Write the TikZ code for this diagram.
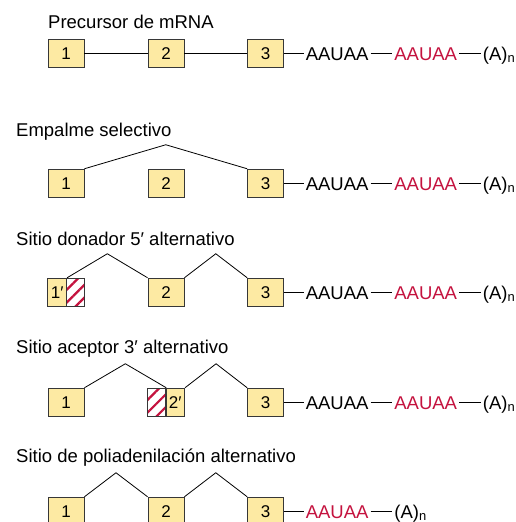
\documentclass[tikz,border=0pt]{standalone}
\usepackage{fontspec}
\setmainfont{Liberation Sans}
\usetikzlibrary{positioning,calc,patterns.meta}

\definecolor{exonfill}{RGB}{253,234,163}
\definecolor{exonline}{RGB}{55,55,55}
\definecolor{signalred}{RGB}{196,18,62}

\begin{document}
\begin{tikzpicture}[
    x=1pt, y=-1pt,
    rowtitle/.style={anchor=base west, inner sep=0pt, font=\fontsize{18.5}{21}\selectfont},
    exon/.style={draw=exonline, line width=0.9pt, fill=exonfill, inner sep=0pt,
                 minimum width=36pt, minimum height=28.6pt, font=\fontsize{17}{19}\selectfont},
    halfexon/.style={exon, minimum width=18pt},
    hatchexon/.style={draw=exonline, line width=0.9pt, inner sep=0pt,
                 minimum width=18pt, minimum height=28.6pt,
                 pattern={Lines[angle=45, distance=9pt, line width=2.2pt]}, pattern color=signalred},
    seq/.style={inner sep=2pt, text height=13.2pt, text depth=0pt, font=\fontsize{18.5}{21}\selectfont},
    redseq/.style={seq, text=signalred},
    link/.style={line width=0.8pt, black},
]

\def\xa{66}  \def\xb{166}  \def\xc{265.6}
\def\rise{24}

\useasboundingbox (0,0) rectangle (516,522);

% Precursor
\node[rowtitle] (tpre) at (48,28) {Precursor de mRNA};
\node[exon] (pre1) at (\xa,53.5) {1};
\node[exon] (pre2) at (\xb,53.5) {2};
\node[exon] (pre3) at (\xc,53.5) {3};
\draw[link] (pre1.east) -- (pre2.west);
\draw[link] (pre2.east) -- (pre3.west);

% Empalme selectivo: exon 2 skipped
\node[rowtitle] (tsel) at (16,136) {Empalme selectivo};
\node[exon] (sel1) at (\xa,183.5) {1};
\node[exon] (sel2) at (\xb,183.5) {2};
\node[exon] (sel3) at (\xc,183.5) {3};
\draw[link] (sel1.north east) -- ($(sel1.north east)!.5!(sel3.north west)+(0,-\rise)$) -- (sel3.north west);

% Donador 5' alternativo
\node[rowtitle] (tdon) at (16,245) {Sitio donador 5′ alternativo};
\node[halfexon, minimum width=19pt] (don1a) at (57.2,292.5) {1′};
\node[hatchexon, minimum width=17.5pt] (don1b) at (75.4,292.5) {};
\node[exon] (don2) at (\xb,292.5) {2};
\node[exon] (don3) at (\xc,292.5) {3};
\draw[link] (don1a.north east) -- ($(don1a.north east)!.5!(don2.north west)+(0,-\rise)$) -- (don2.north west);
\draw[link] (don2.north east) -- ($(don2.north east)!.5!(don3.north west)+(0,-\rise)$) -- (don3.north west);

% Aceptor 3' alternativo
\node[rowtitle] (tacc) at (16,353) {Sitio aceptor 3′ alternativo};
\node[exon] (acc1) at (\xa,402.5) {1};
\node[hatchexon] (acc2a) at (156.8,402.5) {};
\node[halfexon, minimum width=18.5pt] (acc2b) at (175.3,402.5) {2′};
\node[exon] (acc3) at (\xc,402.5) {3};
\draw[link] (acc1.north east) -- ($(acc1.north east)!.5!(acc2a.north east)+(0,-\rise)$) -- (acc2a.north east);
\draw[link] (acc2b.north east) -- ($(acc2b.north east)!.5!(acc3.north west)+(0,-\rise)$) -- (acc3.north west);

% tails with both poly(A) signals
\foreach \r in {pre,sel,don,acc} {
    \node[seq, right=19.5pt of \r3] (\r s1) {AAUAA};
    \node[redseq, right=21.5pt of \r s1] (\r s2) {AAUAA};
    \node[seq, right=21.5pt of \r s2] (\r pa) {(A)\textsubscript{n}};
    \draw[link] (\r3.east) -- (\r s1.west);
    \draw[link] (\r s1.east) -- (\r s2.west);
    \draw[link] (\r s2.east) -- (\r pa.west);
}

% Poliadenilacion alternativa
\node[rowtitle] (tpol) at (16,462) {Sitio de poliadenilación alternativo};
\node[exon] (pol1) at (\xa,511.5) {1};
\node[exon] (pol2) at (\xb,511.5) {2};
\node[exon] (pol3) at (\xc,511.5) {3};
\draw[link] (pol1.north east) -- ($(pol1.north east)!.5!(pol2.north west)+(0,-\rise)$) -- (pol2.north west);
\draw[link] (pol2.north east) -- ($(pol2.north east)!.5!(pol3.north west)+(0,-\rise)$) -- (pol3.north west);
\node[redseq, right=19.5pt of pol3] (pols2) {AAUAA};
\node[seq, right=21.5pt of pols2] (polpa) {(A)\textsubscript{n}};
\draw[link] (pol3.east) -- (pols2.west);
\draw[link] (pols2.east) -- (polpa.west);

\end{tikzpicture}
\end{document}
